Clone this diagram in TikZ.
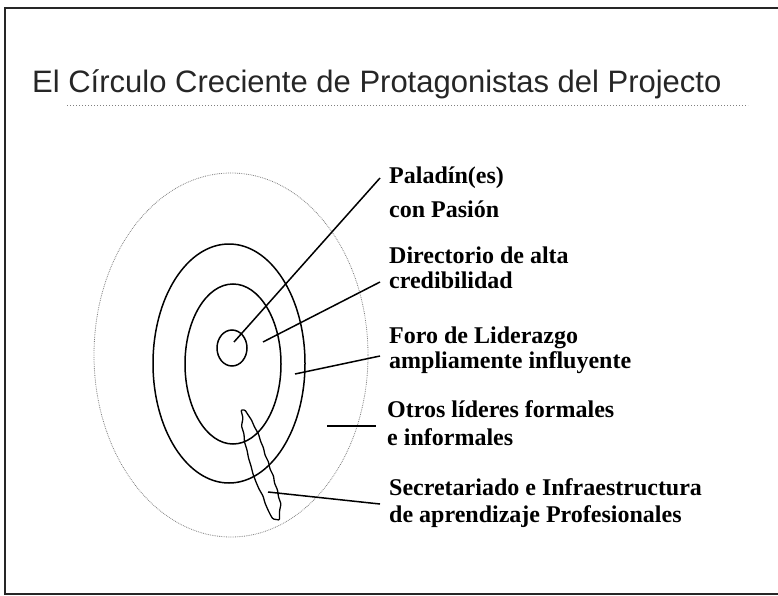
\documentclass[tikz,border=0pt]{standalone}
\usepackage{fontspec}
\setmainfont{Liberation Serif}
\newfontfamily\titlefont{Liberation Sans}
\usetikzlibrary{calc}

\tikzset{
  ring/.style={line width=1.5pt},
  lead/.style={line width=1.5pt},
  lbl/.style={anchor=base west, align=left, inner sep=0pt, font=\bfseries\fontsize{24}{#1}\selectfont},
}

\begin{document}
\begin{tikzpicture}[x=1pt,y=-1pt]
\useasboundingbox (0,0) rectangle (778,596);
\draw[black!85, line width=1.3pt] (5,8) rectangle (790,594);

% title
\node[anchor=base west, inner sep=0pt, font=\titlefont\fontsize{31}{31}\selectfont, black!85] (title) at (32,93) {El Círculo Creciente de Protagonistas del Projecto};
\draw[gray, dotted, line width=1pt] (67,106) -- (748,106);

% circles
\draw[gray, densely dotted, line width=0.8pt] (231,355) ellipse [x radius=137pt, y radius=182pt];
\draw[ring] (229,363.5) ellipse [x radius=76pt, y radius=119.5pt];
\draw[ring] (233,364) ellipse [x radius=48pt, y radius=80pt];
\draw[ring] (232,348) ellipse [x radius=15pt, y radius=18pt];

% secretariado
\draw[line width=1.3pt, rounded corners=1pt] (241,410) -- (243,418) -- (241.5,426) -- (244,434) -- (244.5,442) -- (247,450)
  -- (248.5,458) -- (251,466) -- (253,474) -- (256,482) -- (259,489) -- (263,496) -- (265,503) -- (268,510)
  -- (271,516) -- (273,519) -- (279.5,520) -- (279.5,511) -- (281,504) -- (278.5,497) -- (277.5,490)
  -- (274.5,483) -- (273.5,476) -- (270,469) -- (268.5,462) -- (265,455) -- (263.5,448) -- (260.5,441)
  -- (258.5,434) -- (254.5,427) -- (251.5,420) -- (247.5,414) -- (245,410) -- cycle;

% labels (base = last line)
\node[lbl=34] (pal) at (389,217) {Paladín(es)\\con Pasión};
\node[lbl=25] (dir) at (389,288) {Directorio de alta\\credibilidad};
\node[lbl=25] (foro) at (389,368) {Foro de Liderazgo\\ampliamente influyente};
\node[lbl=28] (otros) at (387,445) {Otros líderes formales\\e informales};
\node[lbl=27] (secr) at (389,522) {Secretariado e Infraestructura\\de aprendizaje Profesionales};

% leaders
\coordinate (palIn) at (234,342);   \coordinate (palOut) at (380,178);
\coordinate (dirIn) at (263,342);   \coordinate (dirOut) at (380,282);
\coordinate (foroIn) at (295,374);  \coordinate (foroOut) at (380,356);
\coordinate (otrosIn) at (327,426); \coordinate (otrosOut) at (376,426);
\coordinate (secrIn) at (268,492);  \coordinate (secrOut) at (380,504);
\foreach \n in {pal,dir,foro,otros,secr} {
  \draw[lead] (\n In) -- (\n Out);
}

\end{tikzpicture}
\end{document}
